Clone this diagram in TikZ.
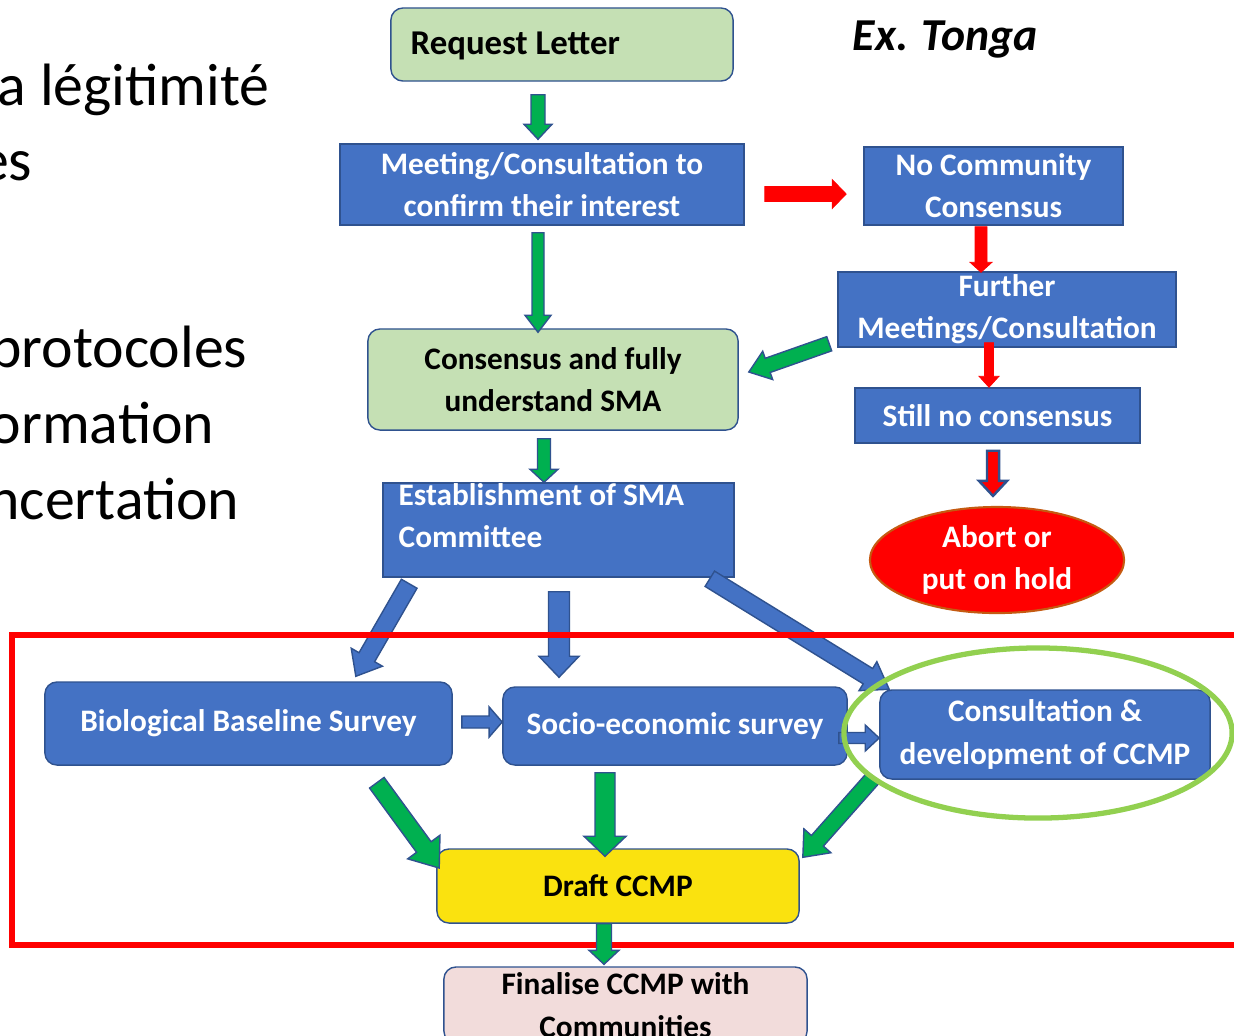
\documentclass[tikz,border=0pt]{standalone}
\usepackage{fontspec}
\setmainfont{Carlito}
\usetikzlibrary{calc,shapes.geometric}
\definecolor{boxblue}{HTML}{4472C4}
\definecolor{edgeblue}{HTML}{2F528F}
\definecolor{lightgreen}{HTML}{C5E0B4}
\definecolor{arrowgreen}{HTML}{00B050}
\definecolor{ringgreen}{HTML}{92D050}
\definecolor{draftyellow}{HTML}{FAE20F}
\definecolor{finalpink}{HTML}{F2DCDB}
\definecolor{abortedge}{HTML}{C55A11}
% #1 style, #2 start, #3 end, #4 half shaft, #5 half head, #6 head length
\newcommand\blockarrow[6]{%
  \coordinate (baA) at (#2);
  \coordinate (baB) at (#3);
  \coordinate (baH) at ($(baB)!#6!(baA)$);
  \filldraw[#1] ($(baA)!#4!90:(baB)$) -- ($(baH)!#4!90:(baB)$) -- ($(baH)!#5!90:(baB)$)
    -- (baB) -- ($(baH)!#5!-90:(baB)$) -- ($(baH)!#4!-90:(baB)$) -- ($(baA)!#4!-90:(baB)$) -- cycle;
}
\tikzset{
  lbl/.style={font=\bfseries\fontsize{8.9}{12}\selectfont, align=center, inner sep=0pt},
  bluebox/.style={lbl, rectangle, fill=boxblue, draw=edgeblue, line width=0.4pt, text=white},
  blueround/.style={bluebox, rounded corners=0.12cm},
  greenbox/.style={lbl, rectangle, rounded corners=0.12cm, fill=lightgreen, draw=edgeblue, line width=0.4pt, text=black},
  draftbox/.style={lbl, rectangle, rounded corners=0.12cm, fill=draftyellow, draw=edgeblue, line width=0.4pt, text=black},
  finalbox/.style={lbl, rectangle, rounded corners=0.12cm, fill=finalpink, draw=edgeblue, line width=0.4pt, text=black},
  abortshape/.style={lbl, ellipse, fill=red, draw=abortedge, line width=0.6pt, text=white},
  greenarrow/.style={fill=arrowgreen, draw=edgeblue, line width=0.4pt},
  bluearrow/.style={fill=boxblue, draw=edgeblue, line width=0.4pt},
  redarrow/.style={fill=red, draw=red, line width=0.2pt},
  redarrowb/.style={fill=red, draw=edgeblue, line width=0.7pt},
  bigtext/.style={font=\fontsize{17}{20}\selectfont, anchor=base east, inner sep=0pt},
}
\begin{document}
\begin{tikzpicture}[x=0.01cm,y=-0.01cm]
\useasboundingbox (0,0) rectangle (1234,1035);
\clip (0,0) rectangle (1234,1035);
\fill[white] (0,0) rectangle (1234,1035);

% left slide text (cut off at the left edge, as in the reference)
\node[bigtext] (t1) at (270,105) {a légitimité};
\node[bigtext] (t2) at (33,180) {es};
\node[bigtext] (t3) at (248,367) {protocoles};
\node[bigtext] (t4) at (215,443) {ormation};
\node[bigtext] (t5) at (240,519) {ncertation};

\node[font=\bfseries\itshape\fontsize{13}{15}\selectfont, anchor=west, inner sep=0pt] (ex) at (852,40) {Ex. Tonga};

% nodes
\node[greenbox, minimum width=3.42cm, minimum height=0.73cm] (req) at (562,44.5) {};
\node[font=\bfseries\fontsize{9.9}{12}\selectfont, anchor=west, inner sep=0pt] (reqtext) at (410,46) {Request Letter};
\node[bluebox, minimum width=4.04cm, minimum height=0.81cm] (meet) at (542,184.5) {Meeting/Consultation to\\confirm their interest};
\node[bluebox, minimum width=2.59cm, minimum height=0.78cm] (nocomm) at (993.5,186) {No Community\\Consensus};
\node[bluebox, minimum width=3.38cm, minimum height=0.75cm] (further) at (1007,309.5) {Further\\Meetings/Consultation};
\node[bluebox, minimum width=2.85cm, minimum height=0.55cm] (still) at (997.5,415.5) {Still no consensus};
\node[abortshape, minimum width=2.54cm, minimum height=1.06cm] (abort) at (997,560) {Abort or\\put on hold};
\node[greenbox, minimum width=3.70cm, minimum height=1.01cm] (cons) at (553,379.5) {Consensus and fully\\understand SMA};
\node[bluebox, minimum width=3.51cm, minimum height=0.94cm] (est) at (558.5,530) {};
\node[lbl, text=white, anchor=west, align=left] (esttext) at (398,516) {Establishment of SMA\\Committee};
\node[blueround, minimum width=4.07cm, minimum height=0.83cm] (bio) at (248.5,723.5) {Biological Baseline Survey};
\node[blueround, minimum width=3.44cm, minimum height=0.78cm] (socio) at (675,726) {Socio-economic survey};
\node[blueround, minimum width=3.30cm, minimum height=0.89cm] (consult) at (1045,734.5) {Consultation \&\\development of CCMP};
\node[draftbox, minimum width=3.62cm, minimum height=0.74cm] (draft) at (618,886) {Draft CCMP};
\node[finalbox, minimum width=3.63cm, minimum height=0.76cm] (final) at (625.5,1005) {Finalise CCMP with\\Communities};

% upper connectors
\blockarrow{greenarrow}{[shift={(-24,13)}]req.south}{[shift={(-4,-4)}]meet.north}{0.07cm}{0.14cm}{0.15cm}
\blockarrow{redarrow}{[shift={(20,9.5)}]meet.east}{[shift={(-17,8)}]nocomm.west}{0.075cm}{0.145cm}{0.14cm}
\blockarrow{redarrow}{[shift={(-12.5,1)}]nocomm.south}{[shift={(-26,1)}]further.north}{0.06cm}{0.11cm}{0.10cm}
\blockarrow{redarrow}{[shift={(-18,-5)}]further.south}{[shift={(-8.5,0)}]still.north}{0.045cm}{0.10cm}{0.11cm}
\blockarrow{redarrowb}{[shift={(-4.5,7)}]still.south}{[shift={(-4,-10)}]abort.north}{0.06cm}{0.14cm}{0.15cm}
\blockarrow{greenarrow}{[shift={(-8,-4)}]further.south west}{[shift={(10,-7.5)}]cons.east}{0.075cm}{0.15cm}{0.20cm}
\blockarrow{greenarrow}{[shift={(-4,7)}]meet.south}{[shift={(-15,4)}]cons.north}{0.06cm}{0.13cm}{0.17cm}
\blockarrow{greenarrow}{[shift={(-9,8)}]cons.south}{[shift={(-14.5,0)}]est.north}{0.065cm}{0.14cm}{0.13cm}

% blue connectors from committee
\blockarrow{bluearrow}{[shift={(27,6)}]est.south west}{[shift={(-97,-5)}]bio.north east}{0.09cm}{0.18cm}{0.22cm}
\blockarrow{bluearrow}{[shift={(0.5,14)}]est.south}{[shift={(-116,-9)}]socio.north}{0.105cm}{0.20cm}{0.21cm}
\blockarrow{bluearrow}{[shift={(-25,1)}]est.south east}{[shift={(10,0)}]consult.north west}{0.09cm}{0.17cm}{0.25cm}
\blockarrow{bluearrow}{[shift={(9,-1.5)}]bio.east}{[shift={(0,-4)}]socio.west}{0.06cm}{0.15cm}{0.13cm}
\blockarrow{bluearrow}{[shift={(-9,12)}]socio.east}{[shift={(0,3.5)}]consult.west}{0.055cm}{0.13cm}{0.14cm}

% green connectors into draft
\blockarrow{greenarrow}{[shift={(-76,17)}]bio.south east}{[shift={(3,-18)}]draft.west}{0.09cm}{0.20cm}{0.26cm}
\blockarrow{greenarrow}{[shift={(-70,7)}]socio.south}{[shift={(-13,8)}]draft.north}{0.10cm}{0.21cm}{0.20cm}
\blockarrow{greenarrow}{[shift={(-6,-2)}]consult.south west}{[shift={(3,9)}]draft.north east}{0.08cm}{0.18cm}{0.22cm}

% highlight ring and frame
\node[ellipse, draw=ringgreen, line width=1.5pt, minimum width=3.88cm, minimum height=1.70cm] (ring) at (1038,733) {};
\draw[red, line width=1.7pt] (12,635) rectangle (1260,945);

\blockarrow{greenarrow}{[shift={(-14,0)}]draft.south}{[shift={(-21.5,-2)}]final.north}{0.075cm}{0.15cm}{0.14cm}
\end{tikzpicture}
\end{document}
